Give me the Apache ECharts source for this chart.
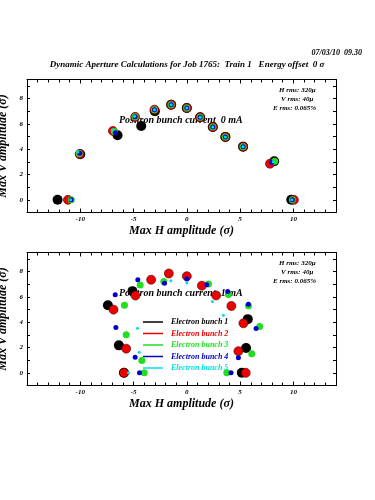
<!DOCTYPE html>
<html>
<head>
<meta charset="utf-8">
<script src="https://cdn.jsdelivr.net/npm/echarts@6/dist/echarts.min.js"></script>
<style>
  html, body { margin: 0; padding: 0; background: #fff; }
  #chart { width: 375px; height: 500px; }
</style>
</head>
<body>
<div id="chart"></div>
<script>
// 数据：每个电子束团的 (H, V) 振幅点
const bunchNames = ['Electron bunch 1', 'Electron bunch 2', 'Electron bunch 3', 'Electron bunch 4', 'Electron bunch 5'];
const bunchColors = ['#000000', '#ee0000', '#22dd22', '#0000cc', '#00e0e0'];
const markerSizes = [10, 9, 7, 5, 3];

// 上图：正电子束流 0 mA
const top1 = [[-12.13,0],[-10.0,3.6],[-6.5,5.1],[-4.28,5.83],[-3.0,7.0],[-1.47,7.51],[0,7.25],[1.25,6.52],[2.44,5.75],[3.62,4.97],[5.28,4.2],[8.2,3.05],[9.8,0]];
const top2 = [[-11.16,0],[-10.05,3.62],[-6.94,5.44],[-4.85,6.55],[-3.04,7.12],[-1.47,7.51],[0,7.25],[1.25,6.52],[2.44,5.75],[3.62,4.97],[5.28,4.2],[7.8,2.85],[10.05,0]];
const top3 = [[-10.85,0],[-10.1,3.66],[-6.8,5.4],[-4.85,6.55],[-3.04,7.12],[-1.47,7.51],[0,7.25],[1.25,6.52],[2.44,5.75],[3.62,4.97],[5.28,4.2],[8.25,3.05],[9.9,0]];
const top4 = [[-10.85,0],[-10.05,3.68],[-6.7,5.3],[-4.85,6.55],[-3.04,7.12],[-1.47,7.51],[0,7.25],[1.25,6.52],[2.44,5.75],[3.62,4.97],[5.28,4.2],[7.95,2.95],[9.9,0]];
const top5 = [[-10.9,0],[-10.25,3.78],[-7.0,5.52],[-4.9,6.6],[-3.04,7.12],[-1.47,7.51],[0,7.25],[1.25,6.52],[2.44,5.75],[3.62,4.97],[5.28,4.2],[8.1,3.0],[9.85,0]];

// 下图：正电子束流 1 mA
const bot1 = [[-5.9,0],[-6.38,2.17],[-7.41,5.33],[-5.1,6.45],[5.72,4.24],[5.56,1.96],[5.16,0]];
const bot2 = [[-5.9,0],[-5.69,1.91],[-6.88,4.99],[-4.82,6.1],[-3.35,7.35],[-1.69,7.84],[0,7.63],[1.41,6.88],[2.75,6.11],[4.18,5.28],[5.31,3.91],[4.84,1.71],[5.53,0]];
const bot3 = [[-4.0,0],[-4.22,0.98],[-5.69,3.0],[-5.85,5.33],[-4.38,6.94],[-2.16,7.22],[2.03,7.01],[3.9,6.18],[5.78,5.3],[6.84,3.65],[6.09,1.5],[3.75,0]];
const bot4 = [[-4.44,0],[-4.85,1.24],[-6.66,3.57],[-6.72,6.16],[-4.6,7.35],[-2.1,7.07],[0,7.4],[1.87,6.96],[3.84,6.42],[5.78,5.41],[6.5,3.5],[4.84,1.19],[4.15,0]];
const bot5 = [[-5.47,0],[-4.47,1.63],[-4.63,3.52],[-1.5,7.27],[0,7.1],[2.4,5.64],[3.43,4.55]];

const topData = [top1, top2, top3, top4, top5];
const botData = [bot1, bot2, bot3, bot4, bot5];

const serifBI = { fontFamily: 'Liberation Serif', fontStyle: 'italic', fontWeight: 'bold' };

const chart = echarts.init(document.getElementById('chart'));

function xAxisPair(gridIndex) {
  return [
    {
      gridIndex, type: 'value', position: 'bottom', min: -15, max: 14, interval: 5,
      name: 'Max H amplitude (σ)', nameLocation: 'middle', nameGap: 12,
      nameTextStyle: { ...serifBI, fontSize: 12, color: '#000' },
      axisLine: { onZero: false, lineStyle: { color: '#000', width: 1 } },
      axisTick: { inside: true, length: 4, lineStyle: { color: '#000' } },
      minorTick: { show: true, splitNumber: 5, length: 3, lineStyle: { color: '#000' } },
      axisLabel: { ...serifBI, fontSize: 7, color: '#000', margin: 3,
        formatter: v => (v % 5 === 0 && v > -15) ? String(v) : '' },
      splitLine: { show: false }
    },
    {
      gridIndex, type: 'value', position: 'top', min: -15, max: 14, interval: 5,
      axisLine: { onZero: false, lineStyle: { color: '#000', width: 1 } },
      axisTick: { inside: true, length: 4, lineStyle: { color: '#000' } },
      minorTick: { show: true, splitNumber: 5, length: 3, lineStyle: { color: '#000' } },
      axisLabel: { show: false }, splitLine: { show: false }
    }
  ];
}

function yAxisPair(gridIndex) {
  return [
    {
      gridIndex, type: 'value', position: 'left', min: -1, max: 9.5, interval: 1,
      name: 'Max V amplitude (σ)', nameLocation: 'middle', nameGap: 17,
      nameTextStyle: { ...serifBI, fontSize: 12, color: '#000' },
      axisLine: { show: true, onZero: false, lineStyle: { color: '#000', width: 1 } },
      axisTick: { inside: true, length: 3, lineStyle: { color: '#000' } },
      axisLabel: { ...serifBI, fontSize: 7, color: '#000', margin: 4,
        formatter: v => (v >= 0 && v % 2 === 0 && v < 9) ? String(v) : '' },
      splitLine: { show: false }
    },
    {
      gridIndex, type: 'value', position: 'right', min: -1, max: 9.5, interval: 1,
      axisLine: { show: true, onZero: false, lineStyle: { color: '#000', width: 1 } },
      axisTick: { inside: true, length: 3, lineStyle: { color: '#000' } },
      axisLabel: { show: false }, splitLine: { show: false }
    }
  ];
}

const series = [];
topData.forEach((d, i) => {
  series.push({
    name: bunchNames[i], type: 'scatter', xAxisIndex: 0, yAxisIndex: 0,
    data: d, symbolSize: markerSizes[i],
    itemStyle: { color: bunchColors[i], borderColor: i === 1 ? '#400' : bunchColors[i], borderWidth: i === 1 ? 0.6 : 0, opacity: 1 },
    z: 2 + i
  });
});
botData.forEach((d, i) => {
  series.push({
    name: bunchNames[i], type: 'scatter', xAxisIndex: 2, yAxisIndex: 2,
    data: d, symbolSize: markerSizes[i],
    itemStyle: { color: bunchColors[i], borderColor: i === 1 ? '#400' : bunchColors[i], borderWidth: i === 1 ? 0.6 : 0, opacity: 1 },
    z: 2 + i
  });
});

const smallText = (x, y, text) => ({
  type: 'text', left: x, top: y,
  style: { text, ...serifBI, fontSize: 7, fill: '#000' }
});

const option = {
  backgroundColor: '#fff',
  animation: false,
  title: [
    { text: '07/03/10  09.30', right: 8, top: 44,
      textStyle: { ...serifBI, fontSize: 8, color: '#000' } },
    { text: 'Dynamic Aperture Calculations for Job 1765:  Train 1   Energy offset  0 σ', left: 182, top: 55, textAlign: 'center',
      textStyle: { ...serifBI, fontSize: 9, color: '#000' } }
  ],
  grid: [
    { left: 27, top: 79.5, width: 309, height: 133, outerBoundsMode: 'none', containLabel: false },
    { left: 27, top: 252.5, width: 309, height: 133, outerBoundsMode: 'none', containLabel: false }
  ],
  xAxis: [...xAxisPair(0), ...xAxisPair(1)],
  yAxis: [...yAxisPair(0), ...yAxisPair(1)],
  legend: {
    orient: 'vertical', left: 143, top: 318, itemGap: 3.5, padding: 0,
    itemWidth: 20, itemHeight: 1.5, icon: 'rect',
    itemStyle: { borderWidth: 0 },
    data: bunchNames.map((n, i) => ({ name: n, textStyle: { color: bunchColors[i] } })),
    textStyle: { ...serifBI, fontSize: 8, padding: [0, 0, 0, 3] },
    selectedMode: false
  },
  graphic: [
    smallText(279, 87, 'H rms: 320μ'),
    smallText(281, 96, 'V rms: 40μ'),
    smallText(273, 105, 'E rms: 0.065%'),
    smallText(279, 260, 'H rms: 320μ'),
    smallText(281, 269, 'V rms: 40μ'),
    smallText(273, 278, 'E rms: 0.065%'),
    { type: 'text', left: 119, top: 115, z: 1,
      style: { text: 'Positron bunch current  0 mA', ...serifBI, fontSize: 10, fill: '#000' } },
    { type: 'text', left: 119, top: 288, z: 1,
      style: { text: 'Positron bunch current  1 mA', ...serifBI, fontSize: 10, fill: '#000' } }
  ],
  series
};

chart.setOption(option);
</script>
</body>
</html>
